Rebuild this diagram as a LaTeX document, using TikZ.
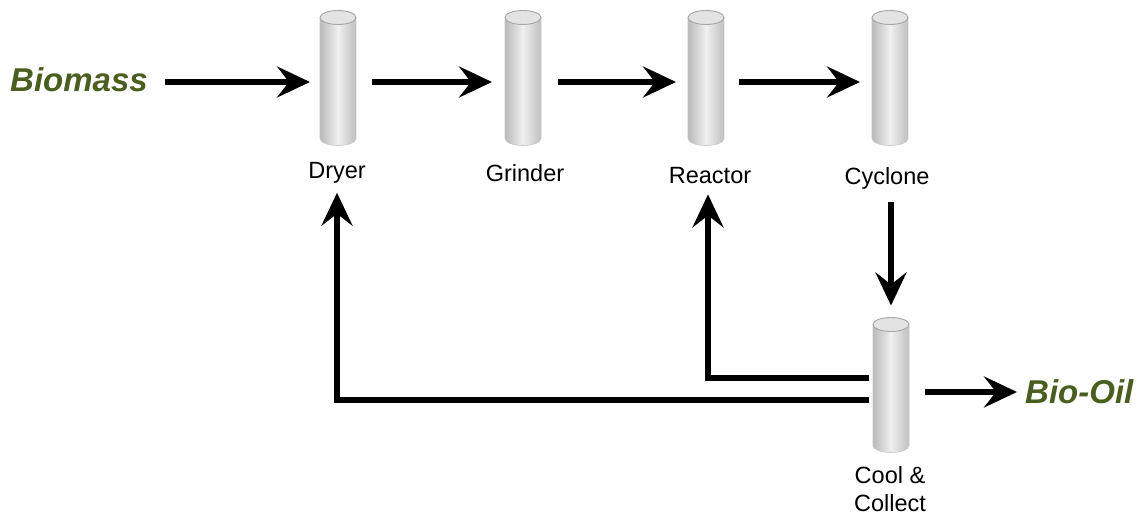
\documentclass[tikz,border=0pt]{standalone}
\usepackage{fontspec}
\setmainfont{Liberation Sans}
\usetikzlibrary{arrows.meta,calc}
\definecolor{oilgreen}{RGB}{74,94,30}
\tikzset{
  cylbox/.style={minimum width=36pt, minimum height=135pt, inner sep=0pt, outer sep=0pt},
  lbl/.style={font=\fontsize{23.5}{28}\selectfont, align=center, inner sep=0pt},
  endlbl/.style={font=\fontsize{33}{38}\selectfont\bfseries\itshape, text=oilgreen, inner sep=0pt},
  arr/.style={line width=5.5pt, -{Stealth[length=33pt, width=31pt, inset=12pt]}},
}
\newcommand\drawcyl[1]{%
  \shade[left color=gray!55, right color=gray!50, middle color=gray!12]
    ($(#1.north west)+(0,-7)$) -- ($(#1.south west)+(0,7)$)
    arc[start angle=180, end angle=360, x radius=18, y radius=7]
    -- ($(#1.north east)+(0,-7)$)
    arc[start angle=0, end angle=180, x radius=18, y radius=7] -- cycle;
  \draw[gray!45, line width=0.6pt]
    ($(#1.north west)+(0,-7)$) -- ($(#1.south west)+(0,7)$)
    arc[start angle=180, end angle=360, x radius=18, y radius=7]
    -- ($(#1.north east)+(0,-7)$);
  \filldraw[fill=gray!22, draw=gray!70, line width=0.9pt]
    ($(#1.north)+(0,-7)$) ellipse[x radius=18, y radius=7];
}
\begin{document}
\begin{tikzpicture}[x=1pt,y=1pt]
\useasboundingbox (0,0) rectangle (1137,518);
% cylinders
\node[cylbox] (dryer)   at (338,440) {};
\node[cylbox] (grinder) at (523,440) {};
\node[cylbox] (reactor) at (706,440) {};
\node[cylbox] (cyclone) at (890,440) {};
\node[cylbox] (cool)    at (891,133) {};
\drawcyl{dryer}\drawcyl{grinder}\drawcyl{reactor}\drawcyl{cyclone}\drawcyl{cool}
% labels
\node[lbl] (ldryer)   at (337,345) {Dryer};
\node[lbl] (lgrinder) at (525,345) {Grinder};
\node[lbl] (lreactor) at (710,342) {Reactor};
\node[lbl] (lcyclone) at (887,340) {Cyclone};
\node[lbl] (lcool)    at (890,29) {Cool \&\\Collect};
\node[endlbl, anchor=east] (biomass) at (148,438) {Biomass};
\node[endlbl, anchor=west] (biooil)  at (1025,126) {Bio-Oil};
% main arrows
\coordinate (r) at (0,436);
\coordinate (o) at ($(cool.east)+(0,-7)$);
\coordinate (xr) at (708,0);
\coordinate (vtop) at ($(cool.north |- lcyclone.south)+(0,-13)$);
\draw[arr, shorten <=17pt, shorten >=10pt] (biomass.east |- r) -- (dryer.west |- r);
\draw[arr, shorten <=16pt, shorten >=13pt] (dryer.east |- r) -- (grinder.west |- r);
\draw[arr, shorten <=17pt, shorten >=12pt] (grinder.east |- r) -- (reactor.west |- r);
\draw[arr, shorten <=15pt, shorten >=12pt] (reactor.east |- r) -- (cyclone.west |- r);
\draw[arr, shorten >=12pt] (vtop) -- (cool.north);
\draw[arr, shorten <=16pt, shorten >=8pt] (o) -- (biooil.west |- o);
% feedback
\coordinate (fbA) at ($(cool.west)+(-4,7)$);
\coordinate (fbB) at ($(cool.west)+(-4,-15)$);
\coordinate (tipA) at ($(lreactor.south -| xr)+(0,-10)$);
\coordinate (tipB) at ($(ldryer.south)+(0,-9)$);
\draw[arr] (fbA) -- (fbA -| xr) -- (tipA);
\draw[arr] (fbB) -- (fbB -| tipB) -- (tipB);
\end{tikzpicture}
\end{document}
